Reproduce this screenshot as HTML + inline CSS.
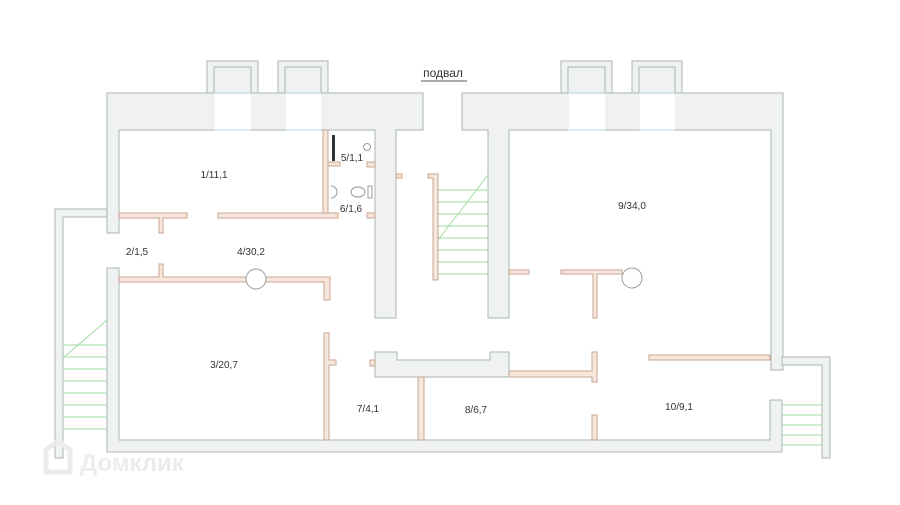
<!DOCTYPE html>
<html><head><meta charset="utf-8"><style>
html,body{margin:0;padding:0;background:#fff;width:900px;height:505px;overflow:hidden}
svg{display:block}
text{font-family:"Liberation Sans",sans-serif;fill:#333}
</style></head><body>
<svg width="900" height="505" viewBox="0 0 900 505" xmlns="http://www.w3.org/2000/svg">
<g fill="#f0f2f1" stroke="#a9b6b1" stroke-width="1">
<path d="M207 130V61H258V130M214 130V67H251V130"/>
<path d="M278 130V61H328V130M285 130V67H321V130"/>
<path d="M561 130V61H612V130M568 130V67H605V130"/>
<path d="M632 130V61H682V130M639 130V67H675V130"/>
<path d="M107 93H423V130H396V318H375V130H119V233H107Z"/>
<path d="M55 209H107V217H63V458H55Z"/>
<path d="M107 268H119V440H770V400H782V452H107Z"/>
<path d="M462 93H783V370H771V130H509V318H488V130H462Z"/>
<path d="M782 357H830V458H822V365H782Z"/>
<path d="M375 352H397V360H490V352H509V377H375Z"/>
</g>
<g fill="#fff" stroke="none">
<rect x="215" y="94" width="36" height="36"/><rect x="286" y="94" width="35" height="36"/>
<rect x="569" y="94" width="36" height="36"/><rect x="640" y="94" width="35" height="36"/>
</g>
<g stroke="#bcd6ea" stroke-width="1">
<line x1="214" y1="93" x2="251" y2="93"/><line x1="214" y1="130" x2="251" y2="130"/>
<line x1="285" y1="93" x2="321" y2="93"/><line x1="285" y1="130" x2="321" y2="130"/>
<line x1="568" y1="93" x2="605" y2="93"/><line x1="568" y1="130" x2="605" y2="130"/>
<line x1="639" y1="93" x2="675" y2="93"/><line x1="639" y1="130" x2="675" y2="130"/>
</g>
<g stroke="#9fdca0" stroke-width="1">
<line x1="438" y1="190" x2="488" y2="190"/><line x1="438" y1="202" x2="488" y2="202"/><line x1="438" y1="214" x2="488" y2="214"/><line x1="438" y1="226" x2="488" y2="226"/><line x1="438" y1="238" x2="488" y2="238"/><line x1="438" y1="250" x2="488" y2="250"/><line x1="438" y1="262" x2="488" y2="262"/><line x1="438" y1="274" x2="488" y2="274"/>
<line x1="438" y1="240" x2="488" y2="175"/>
<line x1="63" y1="345" x2="107" y2="345"/><line x1="63" y1="357" x2="107" y2="357"/><line x1="63" y1="369" x2="107" y2="369"/><line x1="63" y1="381" x2="107" y2="381"/><line x1="63" y1="393" x2="107" y2="393"/><line x1="63" y1="405" x2="107" y2="405"/><line x1="63" y1="417" x2="107" y2="417"/><line x1="63" y1="429" x2="107" y2="429"/><line x1="63" y1="358" x2="107" y2="320"/>
<line x1="782" y1="405" x2="822" y2="405"/><line x1="782" y1="415" x2="822" y2="415"/><line x1="782" y1="425" x2="822" y2="425"/><line x1="782" y1="435" x2="822" y2="435"/><line x1="782" y1="445" x2="822" y2="445"/>
</g>
<g fill="#f6e7dc" stroke="#c9a58f" stroke-width="1">
<rect x="323" y="130" width="5" height="85"/>
<rect x="328" y="162" width="12" height="4"/><rect x="367" y="162" width="8" height="5"/>
<path d="M119 213H187V218H163V233H159V218H119Z"/>
<rect x="218" y="213" width="120" height="5"/><rect x="367" y="213" width="8" height="5"/>
<path d="M119 277H159V264H163V277H330V300H324V282H119Z"/>
<rect x="396" y="174" width="6" height="4"/>
<path d="M428 174H438V280H433V178H428Z"/>
<rect x="509" y="270" width="20" height="4"/>
<path d="M561 270H622V274H597V318H593V274H561Z"/>
<path d="M324 333H329V360H336V365H329V440H324Z"/>
<rect x="370" y="360" width="5" height="6"/>
<rect x="418" y="377" width="6" height="63"/>
<path d="M509 371H592V352H597V382H592V377H509Z"/>
<rect x="592" y="415" width="5" height="25"/>
<rect x="649" y="355" width="121" height="5"/>
</g>
<g fill="#fff" stroke="#999" stroke-width="1">
<circle cx="256" cy="279" r="10"/><circle cx="632" cy="278" r="10"/>
<circle cx="367" cy="147" r="3.5"/>
<ellipse cx="358" cy="192" rx="7" ry="5"/><rect x="368" y="186" width="4" height="12"/>
<path d="M331 186a6 6 0 0 1 0 12"/>
</g>
<rect x="332" y="135" width="3" height="26" fill="#333"/>
<g font-size="10" text-anchor="middle">
<text x="214" y="178">1/11,1</text>
<text x="352" y="161">5/1,1</text>
<text x="351" y="212">6/1,6</text>
<text x="137" y="255">2/1,5</text>
<text x="251" y="255">4/30,2</text>
<text x="632" y="209">9/34,0</text>
<text x="224" y="368">3/20,7</text>
<text x="368" y="412">7/4,1</text>
<text x="476" y="413">8/6,7</text>
<text x="679" y="410">10/9,1</text>
<text x="443" y="77" font-size="12">подвал</text>
</g>
<line x1="421" y1="81" x2="467" y2="81" stroke="#555" stroke-width="1"/>
<text x="80" y="471" font-size="24" style="fill:#ececec" font-weight="bold">Домклик</text>
<path d="M46 450l12-9 12 9v22h-24z" fill="none" stroke="#ececec" stroke-width="5"/>
</svg>
</body></html>
